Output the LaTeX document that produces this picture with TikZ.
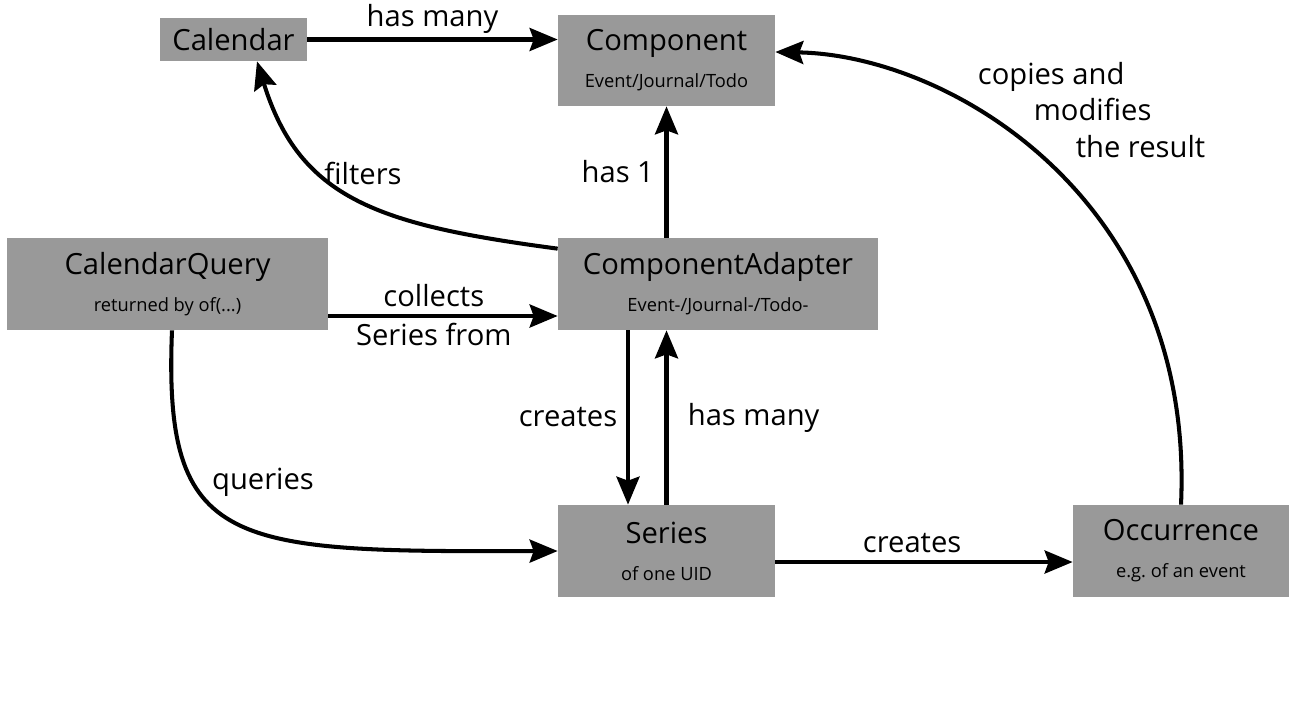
\documentclass[tikz,border=0pt]{standalone}
\usepackage{fontspec}
\setmainfont{Open Sans}
\usepackage{tikz}
\usetikzlibrary{arrows.meta, positioning}
\definecolor{boxgray}{RGB}{153,153,153}
\newcommand{\subtxt}[1]{{\fontsize{10.4}{12}\selectfont #1}}

\begin{document}
\begin{tikzpicture}[
    entity/.style={rectangle, fill=boxgray, inner sep=0pt, align=center, font=\fontsize{16.6}{21}\selectfont},
    lbl/.style={inner sep=0pt, font=\fontsize{16.6}{21}\selectfont},
    arrow/.style={line width=2.3pt, -{Stealth[length=0.56cm, width=0.46cm, inset=0.08cm]}}
]
\useasboundingbox (0,0) rectangle (26.04,-14.4);

\node (cal) [entity, minimum width=2.94cm, minimum height=0.86cm] at (4.67,-0.79) {Calendar};
\node (comp) [entity, minimum width=4.34cm, minimum height=1.82cm] at (13.33,-1.21) {Component\\\subtxt{Event/Journal/Todo}};
\node (query) [entity, minimum width=6.42cm, minimum height=1.84cm] at (3.35,-5.68) {CalendarQuery\\\subtxt{returned by of(...)}};
\node (adapter) [entity, minimum width=6.4cm, minimum height=1.84cm] at (14.36,-5.68) {ComponentAdapter\\\subtxt{Event-/Journal-/Todo-}};
\node (series) [entity, minimum width=4.34cm, minimum height=1.84cm] at (13.33,-11.02) {Series\\\subtxt{of one UID}};
\node (occ) [entity, minimum width=4.32cm, minimum height=1.84cm] at (23.62,-11.02) {Occurrence\\\subtxt{e.g.\ of an event}};

\coordinate (down) at ([xshift=-0.77cm]series.north);

\draw [arrow] (cal.east) -- (cal.east -| comp.west) node[lbl, midway, above=2pt] {has many};
\draw [arrow] (comp.south |- adapter.north) -- (comp.south) node[lbl, midway, left=6pt] {has 1};
\draw [arrow] ([yshift=-0.22cm]adapter.north west) .. controls (7.6,-4.5) and (6.0,-4.0) .. ([xshift=0.47cm]cal.south);
\node (filterslbl) [lbl] at (7.26,-3.46) {filters};
\draw [arrow] ([yshift=-0.64cm]query.east) -- ([yshift=-0.64cm]adapter.west)
    node[lbl, pos=0.46, above=4pt] {collects}
    node[lbl, pos=0.46, below=3pt] {Series from};
\draw [arrow] ([xshift=0.09cm]query.south) .. controls (3.26,-11.0) and (4.6,-11.04) .. (series.west);
\node (querieslbl) [lbl] at (5.26,-9.64) {queries};
\draw [arrow] (down |- adapter.south) -- (down) node[lbl, midway, left=5pt] {creates};
\draw [arrow] (series.north) -- (series.north |- adapter.south) node[lbl, midway, right=11pt] {has many};
\draw [arrow] ([yshift=-0.22cm]series.east) -- ([yshift=-0.22cm]occ.west) node[lbl, pos=0.46, above=4pt] {creates};
\draw [arrow] (occ.north) .. controls (23.9,-4.0) and (19.0,-1.1) .. ([yshift=0.17cm]comp.east);
\node (copieslbl) [lbl, anchor=west, align=left] at (19.55,-2.2) {copies and\\\hspace{1.12cm}modifies\\\hspace{1.96cm}the result};

\end{tikzpicture}
\end{document}
